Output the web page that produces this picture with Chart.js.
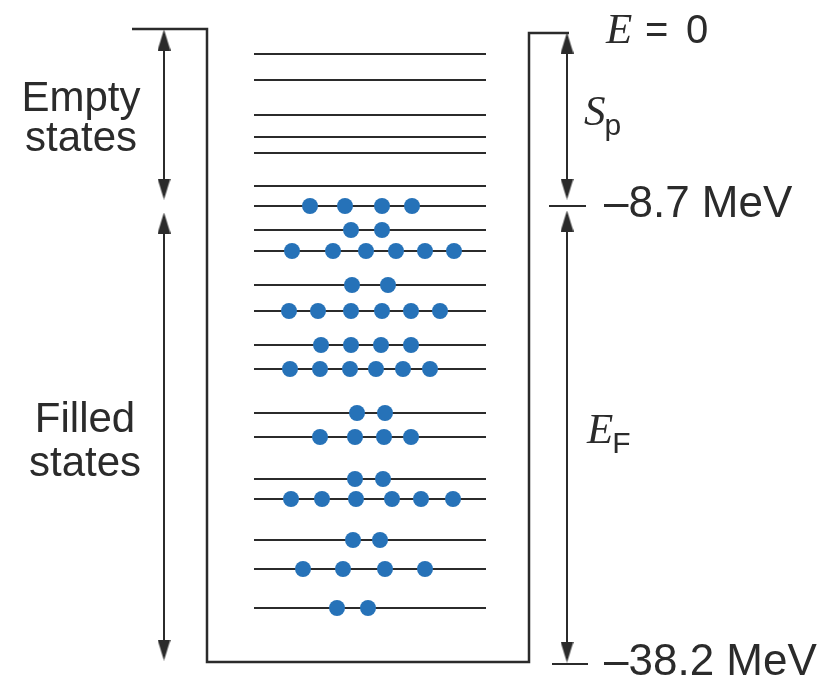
<!DOCTYPE html>
<html>
<head>
<meta charset="utf-8">
<script src="https://cdn.jsdelivr.net/npm/chart.js@4"></script>
<style>
  body { margin: 0; background: #fff; }
</style>
</head>
<body>
<canvas id="wellChart" width="832" height="679"></canvas>
<script>
// diagram units: x across the well, y downward (0 = top of picture)
var levelY = [54, 80, 115, 137, 153, 186, 206, 230, 251, 285, 311, 345, 369, 413, 437, 479, 499, 540, 569, 608];
var levelFrom = 254, levelTo = 486;
// x of each nucleon on the levels (empty levels have none)
var levelDots = [
  [], [], [], [], [], [],
  [310, 345, 382, 412],
  [351, 382],
  [292, 333, 366, 396, 425, 454],
  [352, 388],
  [289, 318, 351, 382, 411, 440],
  [321, 351, 381, 411],
  [290, 320, 350, 376, 403, 430],
  [357, 385],
  [320, 355, 384, 411],
  [355, 383],
  [291, 322, 356, 392, 421, 453],
  [353, 380],
  [303, 343, 385, 425],
  [337, 368]
];
var wellOutline = [[132, 29], [207, 29], [207, 662], [529, 662], [529, 33], [569, 33]];
// arrows: [x, from, to, headAtFrom, headAtTo]
var arrows = [
  [164, 30, 199, true, true],
  [164, 213, 660, true, true],
  [567, 33, 199, true, true],
  [567, 211, 662, true, true]
];
var ticks = [[549, 586, 206], [552, 588, 664]];
var sideLabels = [
  { lines: ['Empty', 'states'], x: 81, y: [111, 151] },
  { lines: ['Filled', 'states'], x: 85, y: [432, 476] }
];
var energyLabels = [
  { text: '\u20138.7 MeV', x: 604, y: 217 },
  { text: '\u201338.2 MeV', x: 604, y: 675 }
];
var symbolLabels = [
  { main: 'E', sub: '', rest: [['=', 645], ['0', 686]], x: 606, y: 43 },
  { main: 'S', sub: 'p', rest: [], x: 584, y: 125 },
  { main: 'E', sub: 'F', rest: [], x: 587, y: 443 }
];

var ink = '#2b2b2b';
var dotColor = '#2672b8';

// narrow arrowhead image
var head = document.createElement('canvas');
head.width = 13; head.height = 21;
var hc = head.getContext('2d');
hc.fillStyle = ink;
hc.beginPath(); hc.moveTo(6.5, 0); hc.lineTo(13, 21); hc.lineTo(0, 21); hc.closePath(); hc.fill();

var datasets = [];
levelY.forEach(function (y) {
  datasets.push({ type: 'line', data: [{ x: levelFrom, y: y }, { x: levelTo, y: y }],
    borderColor: ink, borderWidth: 2, pointRadius: 0, order: 2 });
});
var dotPts = [];
levelDots.forEach(function (xs, i) {
  xs.forEach(function (x) { dotPts.push({ x: x, y: levelY[i] }); });
});
datasets.push({ type: 'scatter', data: dotPts, backgroundColor: dotColor, borderWidth: 0,
  pointRadius: 8, order: 1 });
datasets.push({ type: 'line', data: wellOutline.map(function (p) { return { x: p[0], y: p[1] }; }),
  borderColor: ink, borderWidth: 2.5, pointRadius: 0, tension: 0, order: 2 });
ticks.forEach(function (t) {
  datasets.push({ type: 'line', data: [{ x: t[0], y: t[2] }, { x: t[1], y: t[2] }],
    borderColor: ink, borderWidth: 2, pointRadius: 0, order: 2 });
});
var headPts = [], headRot = [];
arrows.forEach(function (a) {
  datasets.push({ type: 'line', data: [{ x: a[0], y: a[1] + 4 }, { x: a[0], y: a[2] - 4 }],
    borderColor: ink, borderWidth: 2, pointRadius: 0, order: 2 });
  if (a[3]) { headPts.push({ x: a[0], y: a[1] + 10 }); headRot.push(0); }
  if (a[4]) { headPts.push({ x: a[0], y: a[2] - 10 }); headRot.push(180); }
});
datasets.push({ type: 'scatter', data: headPts, pointStyle: head, rotation: headRot,
  pointRadius: 10, order: 0 });

var textPlugin = {
  id: 'wellText',
  afterDraw: function (chart) {
    var c = chart.ctx, sx = chart.scales.x, sy = chart.scales.y;
    c.save();
    c.fillStyle = ink;
    c.textBaseline = 'alphabetic';
    c.font = '42px "Liberation Sans", Arial, sans-serif';
    c.textAlign = 'center';
    sideLabels.forEach(function (l) {
      l.lines.forEach(function (s, k) {
        c.fillText(s, sx.getPixelForValue(l.x), sy.getPixelForValue(l.y[k]));
      });
    });
    c.textAlign = 'left';
    c.font = '44px "Liberation Sans", Arial, sans-serif';
    energyLabels.forEach(function (l) {
      c.fillText(l.text, sx.getPixelForValue(l.x), sy.getPixelForValue(l.y));
    });
    symbolLabels.forEach(function (l) {
      var px = sx.getPixelForValue(l.x), py = sy.getPixelForValue(l.y);
      c.font = 'italic 43px "Liberation Serif", "DejaVu Serif", serif';
      c.fillText(l.main, px, py);
      var w = c.measureText(l.main).width;
      if (l.sub) {
        c.font = '30px "Liberation Sans", Arial, sans-serif';
        c.fillText(l.sub, px + w - 1, py + 10);
      }
      c.font = '40px "Liberation Sans", Arial, sans-serif';
      l.rest.forEach(function (r) {
        c.fillText(r[0], sx.getPixelForValue(r[1]), py);
      });
    });
    c.restore();
  }
};

new Chart(document.getElementById('wellChart'), {
  data: { datasets: datasets },
  options: {
    responsive: false,
    animation: false,
    layout: { padding: 0, autoPadding: false },
    plugins: { legend: { display: false }, tooltip: { enabled: false } },
    scales: {
      x: { type: 'linear', min: 0, max: 832, display: false },
      y: { type: 'linear', min: 0, max: 679, reverse: true, display: false }
    }
  },
  plugins: [textPlugin]
});
</script>
</body>
</html>
